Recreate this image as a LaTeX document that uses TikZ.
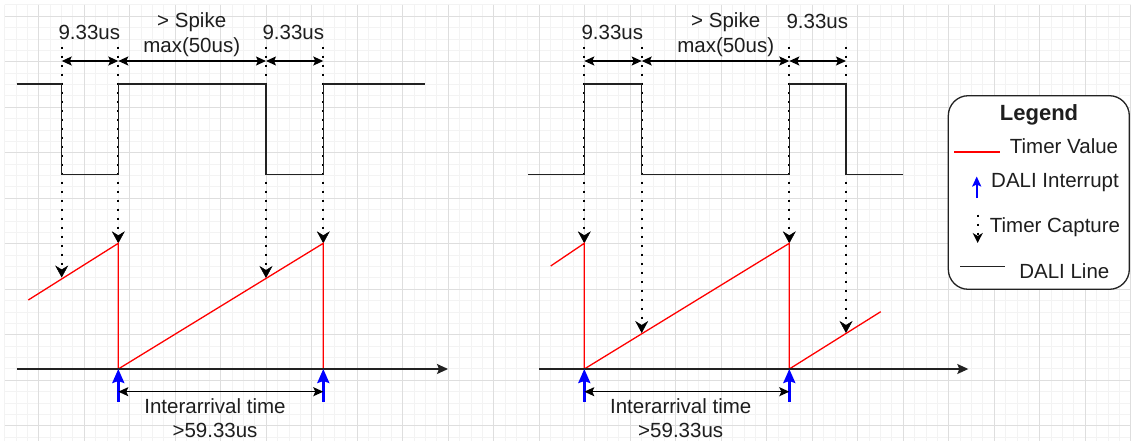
\documentclass[tikz,border=0pt]{standalone}
\usepackage{fontspec}
\setmainfont{Liberation Sans}
\usetikzlibrary{arrows.meta}
\definecolor{gminor}{HTML}{F3F3F3}
\definecolor{gmajor}{HTML}{DEDEDE}
\definecolor{txt}{HTML}{1E1E1E}
\definecolor{dline}{HTML}{222222}
\definecolor{tred}{HTML}{FF0000}
\tikzset{
  lbl/.style={inner sep=0pt, anchor=base, text=txt, font=\fontsize{20.5}{25}\selectfont},
  dali/.style={draw=dline, line width=1.3pt, line join=miter},
  timer/.style={draw=tred, line width=1.3pt},
  irq/.style={draw=blue, line width=2.6pt, -{Stealth[length=14pt,width=12pt,inset=2pt]}},
  capture/.style={draw=black, line width=2pt, dash pattern=on 2pt off 7pt,
     -{Stealth[length=12pt,width=13pt,inset=4pt,line width=0.5pt]}},
  dim/.style={draw=black, line width=1.3pt,
     {Stealth[length=10pt,width=9pt,inset=2pt]}-{Stealth[length=10pt,width=9pt,inset=2pt]}},
  axis/.style={draw=dline, line width=1.3pt, -{Stealth[length=11pt,width=10pt,inset=2pt]}},
}
\begin{document}
\begin{tikzpicture}[x=1pt,y=-1pt]
\useasboundingbox (0,0) rectangle (1131,441);
\fill[white] (0,0) rectangle (1131,441);
% grid
\foreach \i in {0,...,99} {\draw[gminor, line width=0.9pt] ({4.675+11.375*\i},4.9) -- ({4.675+11.375*\i},441);}
\foreach \j in {0,...,38} {\draw[gminor, line width=0.9pt] (4.675,{4.9+11.375*\j}) -- (1131,{4.9+11.375*\j});}
\foreach \i in {0,...,24} {\draw[gmajor, line width=1pt] ({38.8+45.5*\i},4.9) -- ({38.8+45.5*\i},441);}
\foreach \j in {0,...,9} {\draw[gmajor, line width=1pt] (4.675,{16.3+45.5*\j}) -- (1131,{16.3+45.5*\j});}

% ================= LEFT DIAGRAM =================
\coordinate (lc1t) at (61.7,46.7);  \coordinate (lc1) at (61.7,277.5);
\coordinate (lc2t) at (118.3,46.7); \coordinate (lc2) at (118.3,243.3);
\coordinate (lc3t) at (266,46.7);   \coordinate (lc3) at (266,278);
\coordinate (lc4t) at (323.3,46.7); \coordinate (lc4) at (323.3,243.3);
\draw[capture] (lc1t) -- (lc1);
\draw[capture] (lc2t) -- (lc2);
\draw[capture] (lc3t) -- (lc3);
\draw[capture] (lc4t) -- (lc4);
\draw[dali] (16.7,84) -- (61.7,84) -- (61.7,174.3) -- (118.3,174.3) -- (118.3,84)
  -- (266,84) -- (266,174.3) -- (323.3,174.3) -- (323.3,84) -- (425,84);
\coordinate (ld1) at (61.7,61); \coordinate (ld2) at (118.3,61);
\coordinate (ld3) at (266,61);  \coordinate (ld4) at (323.3,61);
\draw[dim] (ld1) -- (ld2);
\draw[dim] (ld2) -- (ld3);
\draw[dim] (ld3) -- (ld4);
\node[lbl] (lt1) at (89.3,40) {9.33us};
\node[lbl] (lt2) at (191.7,27.5) {> Spike};
\node[lbl] (lt3) at (191.7,52.7) {max(50us)};
\node[lbl] (lt4) at (293.3,40) {9.33us};
\draw[timer] (28.3,300) -- (118.3,243.3) -- (118.3,369) -- (323.3,243.3) -- (323.3,369);
\coordinate (lax0) at (16.7,369); \coordinate (lax1) at (448,369);
\draw[axis] (lax0) -- (lax1);
\coordinate (li1b) at (118.3,402); \coordinate (li1) at (118.3,369);
\coordinate (li2b) at (323.3,402); \coordinate (li2) at (323.3,369);
\draw[irq] (li1b) -- (li1);
\draw[irq] (li2b) -- (li2);
\coordinate (lia) at (118.3,391.7); \coordinate (lib) at (323.3,391.7);
\draw[dim] (lia) -- (lib);
\node[lbl] (lt5) at (215,413.3) {Interarrival time};
\node[lbl] (lt6) at (215,437.5) {>59.33us};

% ================= RIGHT DIAGRAM =================
\coordinate (rc1t) at (584.3,46.7); \coordinate (rc1) at (584.3,243.3);
\coordinate (rc2t) at (641.7,46.7); \coordinate (rc2) at (641.7,333);
\coordinate (rc3t) at (789.3,46.7); \coordinate (rc3) at (789.3,243.3);
\coordinate (rc4t) at (846,46.7);   \coordinate (rc4) at (846,333);
\draw[capture] (rc1t) -- (rc1);
\draw[capture] (rc2t) -- (rc2);
\draw[capture] (rc3t) -- (rc3);
\draw[capture] (rc4t) -- (rc4);
\draw[dali] (528.3,174.3) -- (584.3,174.3) -- (584.3,84) -- (641.7,84) -- (641.7,174.3)
  -- (789.3,174.3) -- (789.3,84) -- (846,84) -- (846,174.3) -- (902.7,174.3);
\coordinate (rd1) at (584.3,61); \coordinate (rd2) at (641.7,61);
\coordinate (rd3) at (789.3,61); \coordinate (rd4) at (846,61);
\draw[dim] (rd1) -- (rd2);
\draw[dim] (rd2) -- (rd3);
\draw[dim] (rd3) -- (rd4);
\node[lbl] (rt1) at (612.3,39.5) {9.33us};
\node[lbl] (rt2) at (725.7,27.5) {> Spike};
\node[lbl] (rt3) at (725.7,52.7) {max(50us)};
\node[lbl] (rt4) at (817.3,28.3) {9.33us};
\draw[timer] (550.7,266) -- (584.3,243.3) -- (584.3,369) -- (789.3,243.3) -- (789.3,369) -- (880.7,311.7);
\coordinate (rax0) at (539.3,369); \coordinate (rax1) at (968.3,369);
\draw[axis] (rax0) -- (rax1);
\coordinate (ri1b) at (584.3,402); \coordinate (ri1) at (584.3,369);
\coordinate (ri2b) at (789.3,402); \coordinate (ri2) at (789.3,369);
\draw[irq] (ri1b) -- (ri1);
\draw[irq] (ri2b) -- (ri2);
\coordinate (ria) at (584.3,391.7); \coordinate (rib) at (789.3,391.7);
\draw[dim] (ria) -- (rib);
\node[lbl] (rt5) at (680.7,413.3) {Interarrival time};
\node[lbl] (rt6) at (680.7,437.5) {>59.33us};

% ================= LEGEND =================
\draw[draw=dline, line width=1.3pt, rounded corners=20pt, fill=white] (948.3,95.7) rectangle (1129.3,289.3);
\node[lbl, font=\fontsize{22}{26}\selectfont\bfseries] (lg) at (1039,120.7) {Legend};
\coordinate (lr0) at (954,151.7); \coordinate (lr1) at (1000,151.7);
\draw[red, line width=1.6pt, line cap=butt] (lr0) -- (lr1);
\node[lbl] (lgt1) at (1064,153.3) {Timer Value};
\coordinate (lb0) at (976.7,198); \coordinate (lb1) at (976.7,176.5);
\draw[irq, line width=2.3pt, -{Stealth[length=10pt,width=9pt,inset=2pt]}] (lb0) -- (lb1);
\node[lbl] (lgt2) at (1055,187.3) {DALI Interrupt};
\coordinate (lk0) at (977.7,214.5); \coordinate (lk1) at (977.7,243);
\draw[capture, -{Stealth[length=10pt,width=10pt,inset=3pt]}] (lk0) -- (lk1);
\node[lbl] (lgt3) at (1055,232.7) {Timer Capture};
\coordinate (lm0) at (960,266.7); \coordinate (lm1) at (1005,266.7);
\draw[draw=dline, line width=1.1pt] (lm0) -- (lm1);
\node[lbl] (lgt4) at (1064.3,278.3) {DALI Line};
\end{tikzpicture}
\end{document}
